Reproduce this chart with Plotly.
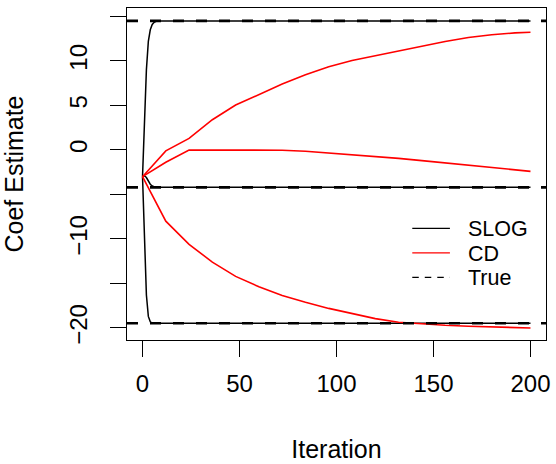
import plotly.graph_objects as go

# ---- data ----
ITER_SLOG = [0, 1, 2, 3, 4, 5, 6, 7, 8, 9, 10, 200]
SLOG_1 = [-3.0, 3.0, 9.0, 12.2, 13.5, 14.1, 14.35, 14.45, 14.5, 14.5, 14.5, 14.5]
SLOG_2 = [-3.0, -2.9, -3.1, -3.5, -3.85, -4.05, -4.15, -4.2, -4.2, -4.2, -4.2, -4.2]
SLOG_3 = [-3.0, -10.5, -16.3, -18.7, -19.3, -19.45, -19.47, -19.47, -19.47, -19.47, -19.47, -19.47]

ITER_CD = [0, 12, 24, 36, 48, 60, 72, 84, 96, 108, 120, 132, 144, 156, 168, 180, 192, 200]
CD_1 = [-3.0, -0.1, 1.3, 3.4, 5.05, 6.27, 7.4, 8.45, 9.35, 10.05, 10.6, 11.1, 11.68, 12.19, 12.63, 12.95, 13.15, 13.22]
CD_2 = [-3.0, -1.38, 0.0, 0.0, 0.0, 0.0, -0.03, -0.15, -0.33, -0.55, -0.75, -0.95, -1.2, -1.45, -1.7, -1.95, -2.2, -2.4]
CD_3 = [-3.0, -8.0, -10.6, -12.6, -14.2, -15.36, -16.35, -17.12, -17.8, -18.4, -18.95, -19.35, -19.55, -19.7, -19.8, -19.9, -19.97, -20.0]

TRUE_VALUES = [14.5, -4.2, -19.47]

X_TICKS = [0, 50, 100, 150, 200]
Y_TICKS = [-20, -15, -10, -5, 0, 5, 10, 15]
Y_TICK_TEXT = ["\u221220", "", "\u221210", "", "0", "5", "10", ""]

LEGEND_LABELS = ["SLOG", "CD", "True"]
LEGEND_COLORS = ["black", "#ff0000", "black"]
LEGEND_DASH = ["solid", "solid", "6.5px,6px"]

FONT = "Liberation Sans, Arial, Helvetica, sans-serif"

# plot-area geometry (pixels)
W, H = 556, 464
L, R, T, B = 127, 6, 8, 124
PW, PH = W - L - R, H - T - B


def px_x(px):
    return (px - L) / PW


def px_y(py):
    return (H - B - py) / PH


fig = go.Figure()

for ys in (SLOG_1, SLOG_2, SLOG_3):
    fig.add_trace(go.Scatter(x=ITER_SLOG, y=ys, mode="lines",
                             line=dict(color="black", width=1.5), showlegend=False))
for ys in (CD_1, CD_2, CD_3):
    fig.add_trace(go.Scatter(x=ITER_CD, y=ys, mode="lines",
                             line=dict(color="#ff0000", width=1.6), showlegend=False))

for v in TRUE_VALUES:
    fig.add_hline(y=v, line=dict(color="black", width=2.6, dash="11px,12px"))

# legend (drawn like R's legend box without border)
for i, (lab, col, dsh) in enumerate(zip(LEGEND_LABELS, LEGEND_COLORS, LEGEND_DASH)):
    yc = 228.3 + 24.5 * i
    fig.add_shape(type="line", xref="paper", yref="paper",
                  x0=px_x(415), x1=px_x(453), y0=px_y(yc), y1=px_y(yc),
                  line=dict(color=col, width=1.2, dash=dsh))
    fig.add_annotation(xref="paper", yref="paper", x=px_x(469), y=px_y(yc + 1.0),
                       xanchor="left", yanchor="middle", showarrow=False,
                       text=lab, font=dict(size=21.5, family=FONT, color="black"))

fig.update_layout(
    width=W, height=H,
    margin=dict(l=L, r=R, t=T, b=B),
    paper_bgcolor="white", plot_bgcolor="white",
    font=dict(family=FONT, size=24, color="black"),
    showlegend=False,
)

fig.update_xaxes(range=[-8, 208], tickmode="array", tickvals=X_TICKS,
                 ticks="outside", ticklen=16, tickwidth=1, tickcolor="black",
                 showline=True, linecolor="black", linewidth=1, mirror=True,
                 showgrid=False, zeroline=False, ticklabelstandoff=6,
                 tickfont=dict(size=24),
                 title=dict(text="Iteration", standoff=44, font=dict(size=25)))
fig.update_yaxes(range=[-21.35, 15.95], tickmode="array", tickvals=Y_TICKS,
                 ticktext=Y_TICK_TEXT, tickangle=-90,
                 ticks="outside", ticklen=16, tickwidth=1, tickcolor="black",
                 showline=True, linecolor="black", linewidth=1, mirror=True,
                 showgrid=False, zeroline=False, ticklabelstandoff=13,
                 tickfont=dict(size=24),
                 title=dict(text="Coef Estimate", standoff=37, font=dict(size=25)))

fig.write_html("out.html")
